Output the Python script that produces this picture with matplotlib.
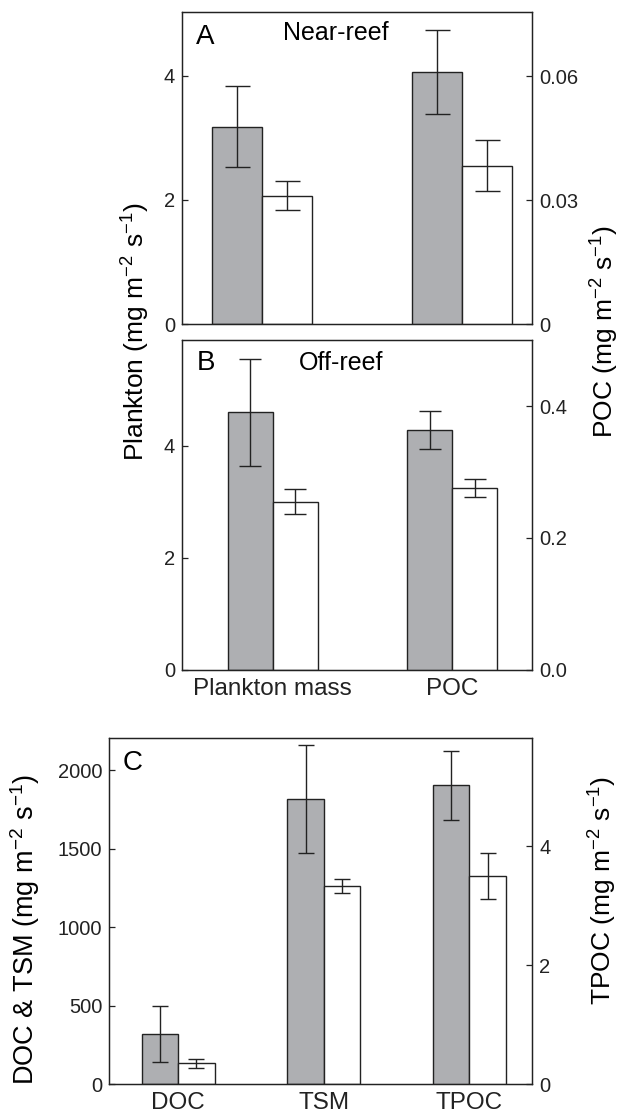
import matplotlib.pyplot as plt
import numpy as np

plt.rcParams['font.family'] = ['Liberation Sans', 'DejaVu Sans']
plt.rcParams['mathtext.fontset'] = 'custom'
plt.rcParams['mathtext.rm'] = 'Liberation Sans'
plt.rcParams['mathtext.it'] = 'Liberation Sans:italic'
plt.rcParams['mathtext.default'] = 'regular'

# panel A - near-reef (grey = first series, white = second series)
A_plankton = [3.18, 2.07]
A_plankton_err = [0.65, 0.23]
A_poc = [0.061, 0.0383]
A_poc_err = [0.0101, 0.0062]

# panel B - off-reef
B_categories = ['Plankton mass', 'POC']
B_plankton = [4.60, 3.005]
B_plankton_err = [0.955, 0.22]
B_poc = [0.364, 0.276]
B_poc_err = [0.0285, 0.0136]

# panel C
C_categories = ['DOC', 'TSM', 'TPOC']
C_doc_tsm_grey = [317, 1816]
C_doc_tsm_white = [132, 1265]
C_doc_tsm_grey_err = [178, 345]
C_doc_tsm_white_err = [27, 46]
C_tpoc = [5.02, 3.50]
C_tpoc_err = [0.585, 0.39]

GREY = '#aeafb2'
EDGE = '#222222'
W = 0.25
YTICK_FS = 14.5
XTICK_FS = 17.5
LAB_FS = 19
NOTE_FS = 18
LETTER_FS = 20

fig = plt.figure(figsize=(6.2, 11.17), dpi=100)


def style(ax, ax2):
    for a in (ax, ax2):
        for s in a.spines.values():
            s.set_linewidth(0.9)
            s.set_color(EDGE)
        a.tick_params(axis='y', direction='in', length=4, width=0.9, labelsize=YTICK_FS, pad=5,
                      colors=EDGE, labelcolor='#222222')
    ax.tick_params(axis='x', length=0, labelsize=XTICK_FS, pad=6, labelcolor='#222222')


def pair(ax, x, grey, white, grey_err, white_err, cap):
    ax.bar(x - W / 2, grey, W, color=GREY, edgecolor=EDGE, linewidth=1.0)
    ax.bar(x + W / 2, white, W, color='white', edgecolor=EDGE, linewidth=1.0)
    ax.errorbar([x - W / 2, x + W / 2], [grey, white], yerr=[grey_err, white_err], fmt='none',
                ecolor=EDGE, elinewidth=1.0, capsize=cap, capthick=1.0)


# ---- A ----
axA = fig.add_axes([0.2935, 0.7099, 0.5645, 0.2793])
axA2 = axA.twinx()
pair(axA, 0, A_plankton[0], A_plankton[1], A_plankton_err[0], A_plankton_err[1], 9)
pair(axA2, 1, A_poc[0], A_poc[1], A_poc_err[0], A_poc_err[1], 9)
axA.set_xlim(-0.40, 1.35)
axA.set_ylim(0, 5.03)
axA2.set_ylim(0, 0.0755)
axA.set_yticks([0, 2, 4])
axA2.set_yticks([0, 0.03, 0.06])
axA2.set_yticklabels(['0', '0.03', '0.06'])
axA.set_xticks([])
style(axA, axA2)
axA.text(0.04, 0.92, 'A', transform=axA.transAxes, fontsize=LETTER_FS, va='center', ha='left')
axA.text(0.289, 0.933, 'Near-reef', transform=axA.transAxes, fontsize=NOTE_FS, va='center', ha='left')

# ---- B ----
axB = fig.add_axes([0.2935, 0.4002, 0.5645, 0.2954])
axB2 = axB.twinx()
pair(axB, 0, B_plankton[0], B_plankton[1], B_plankton_err[0], B_plankton_err[1], 8)
pair(axB2, 1, B_poc[0], B_poc[1], B_poc_err[0], B_poc_err[1], 8)
axB.set_xlim(-0.505, 1.444)
axB.set_ylim(0, 5.89)
axB2.set_ylim(0, 0.5)
axB.set_yticks([0, 2, 4])
axB2.set_yticks([0, 0.2, 0.4])
axB2.set_yticklabels(['0.0', '0.2', '0.4'])
axB.set_xticks(np.arange(len(B_categories)))
axB.set_xticklabels(B_categories)
style(axB, axB2)
axB.text(0.043, 0.93, 'B', transform=axB.transAxes, fontsize=LETTER_FS, va='center', ha='left')
axB.text(0.334, 0.93, 'Off-reef', transform=axB.transAxes, fontsize=NOTE_FS, va='center', ha='left')

fig.text(136 / 620, 1 - 332 / 1117, 'Plankton (mg m$^{-2}$ s$^{-1}$)', rotation=90,
         fontsize=LAB_FS, ha='center', va='center')
fig.text(605 / 620, 1 - 332 / 1117, 'POC (mg m$^{-2}$ s$^{-1}$)', rotation=90,
         fontsize=LAB_FS, ha='center', va='center')

# ---- C ----
axC = fig.add_axes([0.1763, 0.0295, 0.6823, 0.3095])
axC2 = axC.twinx()
for i in range(2):
    pair(axC, i, C_doc_tsm_grey[i], C_doc_tsm_white[i], C_doc_tsm_grey_err[i], C_doc_tsm_white_err[i], 6)
pair(axC2, 2, C_tpoc[0], C_tpoc[1], C_tpoc_err[0], C_tpoc_err[1], 6)
axC.set_xlim(-0.474, 2.433)
axC.set_ylim(0, 2205)
axC2.set_ylim(0, 5.81)
axC.set_yticks([0, 500, 1000, 1500, 2000])
axC2.set_yticks([0, 2, 4])
axC.set_xticks(np.arange(len(C_categories)))
axC.set_xticklabels(C_categories)
style(axC, axC2)
axC.text(0.032, 0.929, 'C', transform=axC.transAxes, fontsize=LETTER_FS, va='center', ha='left')

fig.text(25 / 620, 1 - 930 / 1117, 'DOC & TSM (mg m$^{-2}$ s$^{-1}$)', rotation=90,
         fontsize=19.5, ha='center', va='center')
fig.text(603 / 620, 1 - 890 / 1117, 'TPOC (mg m$^{-2}$ s$^{-1}$)', rotation=90,
         fontsize=LAB_FS, ha='center', va='center')

fig.savefig('out.png', dpi=100)
